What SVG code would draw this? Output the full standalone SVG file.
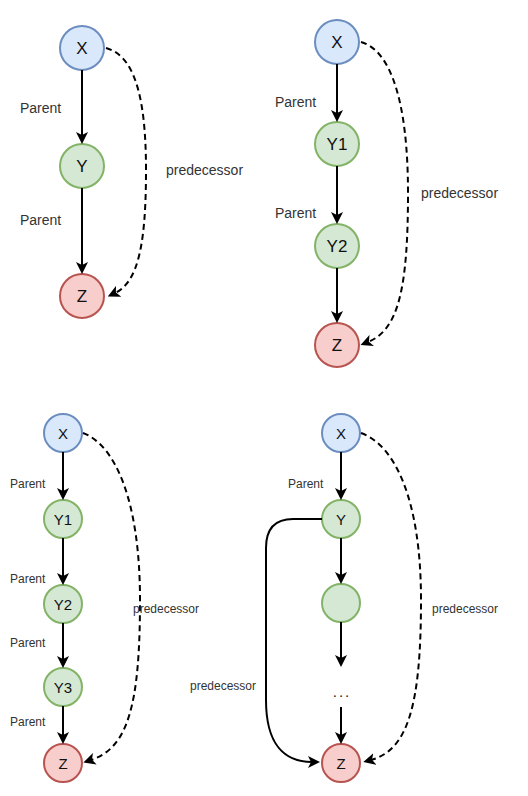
<svg xmlns="http://www.w3.org/2000/svg" width="528" height="796" viewBox="0 0 528 796">
<defs>
<marker id="arr" viewBox="0 0 12 12" refX="4" refY="6" markerWidth="12" markerHeight="12" markerUnits="userSpaceOnUse" orient="auto">
<path d="M0,0 L12,6 L0,12 L3,6 Z" fill="#000"/>
</marker>
<style>
.blue{fill:#dae8fc;stroke:#6c8ebf;stroke-width:2}
.green{fill:#d5e8d4;stroke:#82b366;stroke-width:2}
.red{fill:#f8cecc;stroke:#b85450;stroke-width:2}
.nl{font-family:"Liberation Sans",Arial,sans-serif;font-size:17px;fill:#111;text-anchor:middle}
.ns{font-family:"Liberation Sans",Arial,sans-serif;font-size:15px;fill:#111;text-anchor:middle}
.lb{font-family:"Liberation Sans",Arial,sans-serif;font-size:14px;fill:#333}
.ls{font-family:"Liberation Sans",Arial,sans-serif;font-size:12px;fill:#333}
.e{fill:none;stroke:#000;stroke-width:2;marker-end:url(#arr)}
.d{fill:none;stroke:#000;stroke-width:2;stroke-dasharray:6 4;marker-end:url(#arr)}
</style>
</defs>

<!-- Panel 1 -->
<g id="p1-X"><circle class="blue" cx="82" cy="48" r="22"/><text class="nl" x="82" y="54">X</text></g>
<g id="p1-Y"><circle class="green" cx="82" cy="166" r="22"/><text class="nl" x="82" y="172">Y</text></g>
<g id="p1-Z"><circle class="red" cx="82" cy="296" r="22"/><text class="nl" x="82" y="302">Z</text></g>

<!-- Panel 2 -->
<g id="p2-X"><circle class="blue" cx="337" cy="42" r="22"/><text class="nl" x="337" y="48">X</text></g>
<g id="p2-Y1"><circle class="green" cx="337" cy="144" r="22"/><text class="nl" x="337" y="150">Y1</text></g>
<g id="p2-Y2"><circle class="green" cx="337" cy="246" r="22"/><text class="nl" x="337" y="252">Y2</text></g>
<g id="p2-Z"><circle class="red" cx="337" cy="345" r="22"/><text class="nl" x="337" y="351">Z</text></g>

<!-- Panel 3 -->
<g id="p3-X"><circle class="blue" cx="63" cy="433" r="19"/><text class="ns" x="63" y="438.5">X</text></g>
<g id="p3-Y1"><circle class="green" cx="63" cy="519" r="19"/><text class="ns" x="63" y="524.5">Y1</text></g>
<g id="p3-Y2"><circle class="green" cx="63" cy="604" r="19"/><text class="ns" x="63" y="609.5">Y2</text></g>
<g id="p3-Y3"><circle class="green" cx="63" cy="687" r="19"/><text class="ns" x="63" y="692.5">Y3</text></g>
<g id="p3-Z"><circle class="red" cx="63" cy="763" r="19"/><text class="ns" x="63" y="768.5">Z</text></g>

<!-- Panel 4 -->
<g id="p4-X"><circle class="blue" cx="341" cy="433" r="19"/><text class="ns" x="341" y="438.5">X</text></g>
<g id="p4-Y"><circle class="green" cx="341" cy="519" r="19"/><text class="ns" x="341" y="524.5">Y</text></g>
<g id="p4-N"><circle class="green" cx="341" cy="603" r="19"/></g>
<g id="p4-dots"><text class="ns" x="342" y="697" letter-spacing="2" style="fill:#222">...</text></g>
<g id="p4-Z"><circle class="red" cx="341" cy="763" r="19"/><text class="ns" x="341" y="768.5">Z</text></g>

<!-- Connectors -->
<g id="connectors">
<path class="e" d="M82,70 L82,136"/>
<path class="e" d="M82,188 L82,266"/>
<path class="d" d="M106,48 C132,55 146,90 146,170 C146,245 138,282 115,293"/>

<path class="e" d="M337,64 L337,114"/>
<path class="e" d="M337,166 L337,216"/>
<path class="e" d="M337,268 L337,315"/>
<path class="d" d="M361,42 C390,50 408,100 408,193 C408,290 398,330 368,342"/>

<path class="e" d="M63,452 L63,492"/>
<path class="e" d="M63,538 L63,577"/>
<path class="e" d="M63,623 L63,660"/>
<path class="e" d="M63,706 L63,736"/>
<path class="d" d="M83,433 C115,445 140,500 140,600 C140,705 128,748 91,760"/>

<path class="e" d="M341,452 L341,492"/>
<path class="e" d="M341,538 L341,576"/>
<path class="e" d="M341,622 L341,659"/>
<path class="e" d="M341,707 L341,736"/>
<path class="e" d="M322,519 L293,519 Q266,519 266,548 L266,700 C266,745 285,762 312,762"/>
<path class="d" d="M361,433 C395,445 421,500 421,600 C421,705 408,750 371,760"/>
</g>

<!-- Labels -->
<g id="labels">
<text class="lb" x="20" y="113">Parent</text>
<text class="lb" x="20" y="225">Parent</text>
<text class="lb" x="166" y="175">predecessor</text>

<text class="lb" x="275" y="107">Parent</text>
<text class="lb" x="275" y="218">Parent</text>
<text class="lb" x="421" y="198">predecessor</text>

<text class="ls" x="10" y="488">Parent</text>
<text class="ls" x="10" y="583">Parent</text>
<text class="ls" x="10" y="647">Parent</text>
<text class="ls" x="10" y="726">Parent</text>
<text class="ls" x="133" y="613">predecessor</text>

<text class="ls" x="288" y="488">Parent</text>
<text class="ls" x="432" y="613">predecessor</text>
<text class="ls" x="190" y="690">predecessor</text>
</g>
</svg>
